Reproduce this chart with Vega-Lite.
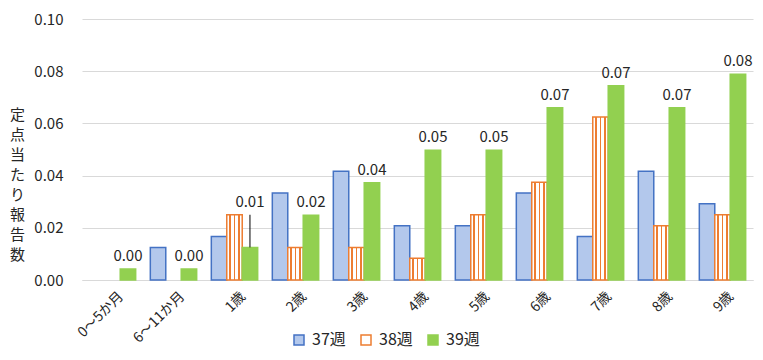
{
  "$schema": "https://vega.github.io/schema/vega-lite/v6.json",
  "width": 671,
  "height": 261,
  "autosize": {"type": "none"},
  "padding": {"left": 82, "top": 19, "right": 10, "bottom": 80},
  "background": "white",
  "config": {
    "font": "Noto Sans CJK JP",
    "view": {"stroke": null},
    "axis": {"labelColor": "#262626", "titleColor": "#262626", "labelFont": "Noto Sans CJK JP", "titleFont": "Noto Sans CJK JP"},
    "legend": {"labelColor": "#262626"}
  },
  "data": {
    "values": [
      {"age": "0～5か月", "week": "37週", "value": 0},
      {"age": "0～5か月", "week": "38週", "value": 0},
      {"age": "0～5か月", "week": "39週", "value": 0.0042},
      {"age": "6～11か月", "week": "37週", "value": 0.0125},
      {"age": "6～11か月", "week": "38週", "value": 0},
      {"age": "6～11か月", "week": "39週", "value": 0.0042},
      {"age": "1歳", "week": "37週", "value": 0.0167},
      {"age": "1歳", "week": "38週", "value": 0.025},
      {"age": "1歳", "week": "39週", "value": 0.0125},
      {"age": "2歳", "week": "37週", "value": 0.0333},
      {"age": "2歳", "week": "38週", "value": 0.0125},
      {"age": "2歳", "week": "39週", "value": 0.0248},
      {"age": "3歳", "week": "37週", "value": 0.0417},
      {"age": "3歳", "week": "38週", "value": 0.0125},
      {"age": "3歳", "week": "39週", "value": 0.0373},
      {"age": "4歳", "week": "37週", "value": 0.0208},
      {"age": "4歳", "week": "38週", "value": 0.0083},
      {"age": "4歳", "week": "39週", "value": 0.0497},
      {"age": "5歳", "week": "37週", "value": 0.0208},
      {"age": "5歳", "week": "38週", "value": 0.025},
      {"age": "5歳", "week": "39週", "value": 0.0497},
      {"age": "6歳", "week": "37週", "value": 0.0333},
      {"age": "6歳", "week": "38週", "value": 0.0375},
      {"age": "6歳", "week": "39週", "value": 0.066},
      {"age": "7歳", "week": "37週", "value": 0.0167},
      {"age": "7歳", "week": "38週", "value": 0.0625},
      {"age": "7歳", "week": "39週", "value": 0.0744},
      {"age": "8歳", "week": "37週", "value": 0.0417},
      {"age": "8歳", "week": "38週", "value": 0.0208},
      {"age": "8歳", "week": "39週", "value": 0.066},
      {"age": "9歳", "week": "37週", "value": 0.0292},
      {"age": "9歳", "week": "38週", "value": 0.025},
      {"age": "9歳", "week": "39週", "value": 0.0788}
    ]
  },
  "transform": [
    {"calculate": "datum.week === '37週' ? 0 : datum.value", "as": "v2"},
    {"joinaggregate": [{"op": "max", "field": "v2", "as": "labelTop"}], "groupby": ["age"]}
  ],
  "encoding": {
    "x": {
      "field": "age",
      "type": "nominal",
      "sort": null,
      "scale": {"paddingInner": 0.24, "paddingOuter": 0.12},
      "axis": {
        "title": null,
        "labelAngle": -45,
        "labelFontSize": 14,
        "labelPadding": 9,
        "labelOffset": 4,
        "ticks": false,
        "domainColor": "#d9d9d9",
        "domainWidth": 1
      }
    },
    "xOffset": {
      "field": "week",
      "type": "nominal",
      "scale": {"paddingInner": 0, "paddingOuter": 0}
    }
  },
  "layer": [
    {
      "mark": {"type": "bar", "strokeWidth": 1.5},
      "encoding": {
        "y": {
          "field": "value",
          "type": "quantitative",
          "scale": {"domain": [0, 0.1], "nice": false},
          "axis": {
            "values": [0, 0.02, 0.04, 0.06, 0.08, 0.1],
            "format": ".2f",
            "labelFontSize": 15,
            "labelPadding": 19,
            "ticks": false,
            "domain": false,
            "gridColor": "#d9d9d9",
            "title": ["定", "点", "当", "た", "り", "報", "告", "数"],
            "titleAngle": 0,
            "titleAlign": "center",
            "titleBaseline": "top",
            "titleX": -65,
            "titleY": 88,
            "titleFontSize": 15,
            "titleFontWeight": "normal",
            "titleLineHeight": 20
          }
        },
        "fill": {
          "field": "week",
          "type": "nominal",
          "scale": {"domain": ["37週", "38週", "39週"], "range": ["#b3c8ec", "#ffffff", "#92d050"]},
          "legend": {
            "title": null,
            "orient": "none",
            "direction": "horizontal",
            "legendX": 209,
            "legendY": 313,
            "symbolType": "square",
            "symbolSize": 100,
            "symbolStrokeWidth": 1.5,
            "labelFontSize": 16,
            "labelOffset": 5,
            "columnPadding": 12
          },
          "condition": {
            "test": "datum.week === '38週'",
            "value": {
              "gradient": "linear",
              "x1": 0, "x2": 1, "y1": 0, "y2": 0,
              "stops": [
                {"offset": 0, "color": "#ffffff"},
                {"offset": 0.17, "color": "#ffffff"},
                {"offset": 0.17, "color": "#ed7d31"},
                {"offset": 0.27, "color": "#ed7d31"},
                {"offset": 0.27, "color": "#ffffff"},
                {"offset": 0.45, "color": "#ffffff"},
                {"offset": 0.45, "color": "#ed7d31"},
                {"offset": 0.55, "color": "#ed7d31"},
                {"offset": 0.55, "color": "#ffffff"},
                {"offset": 0.73, "color": "#ffffff"},
                {"offset": 0.73, "color": "#ed7d31"},
                {"offset": 0.83, "color": "#ed7d31"},
                {"offset": 0.83, "color": "#ffffff"},
                {"offset": 1, "color": "#ffffff"}
              ]
            }
          }
        },
        "stroke": {
          "field": "week",
          "type": "nominal",
          "scale": {"domain": ["37週", "38週", "39週"], "range": ["#4472c4", "#ed7d31", "#92d050"]}
        },
        "strokeOpacity": {"condition": {"test": "datum.value === 0", "value": 0}, "value": 1}
      }
    },
    {
      "transform": [{"filter": "datum.week === '39週' && datum.labelTop > datum.value"}],
      "mark": {"type": "rule", "color": "#000000", "strokeWidth": 1},
      "encoding": {
        "y": {"field": "value", "type": "quantitative"},
        "y2": {"field": "labelTop"}
      }
    },
    {
      "transform": [{"filter": "datum.week === '39週'"}],
      "mark": {"type": "text", "baseline": "bottom", "dy": -5, "fontSize": 15, "fontWeight": "normal", "color": "#262626"},
      "encoding": {
        "y": {"field": "labelTop", "type": "quantitative"},
        "text": {"field": "value", "type": "quantitative", "format": ".2f"}
      }
    }
  ]
}
